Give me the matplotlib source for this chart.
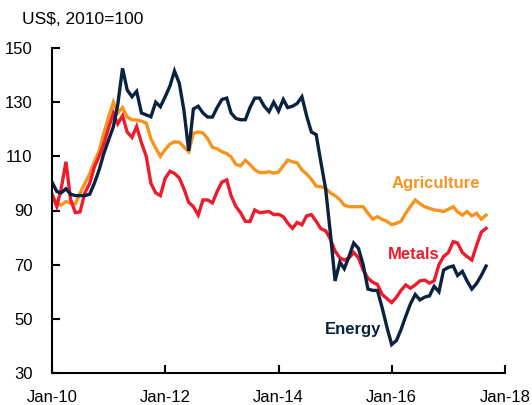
import numpy as np
import pandas as pd
import matplotlib
matplotlib.use("Agg")
import matplotlib.pyplot as plt
import matplotlib.dates as mdates

plt.rcParams['font.family'] = ['Liberation Sans', 'DejaVu Sans']

dates = pd.date_range("2010-01-01", periods=93, freq="MS")

energy = [100.5, 97, 96.5, 98, 96, 95.5, 95.5, 95.5, 96, 100, 105, 111, 116, 121, 129, 142.5,
          134.5, 132, 134, 126, 125.3, 124.6, 130, 128.3, 132, 136, 141.5, 137, 127, 112,
          127.5, 128.5, 126, 124.5, 124.5, 128, 131, 131.5, 126, 124, 123.5, 123.5,
          128, 131.5, 131.5, 128.5, 126.5, 130,
          126.7, 131, 128, 128.5, 129.5, 132, 125, 119, 118, 108, 98, 82,
          64, 71, 68.5, 73, 78, 76, 70, 61, 60.5, 60.5, 54, 47,
          40.5, 42, 46, 51, 55.5, 59, 57, 58, 58.5, 62, 60, 68,
          69, 69.5, 66, 67.5, 64, 61, 63, 66, 69.5]

agriculture = [96, 92.5, 92, 93.3, 92.7, 92.4, 96.4, 100, 103.5, 108, 112, 118.5,
               124.5, 130, 126, 128, 124.5, 123.5, 123.4, 123, 122.3, 116.5, 113, 110,
               112.5, 114.5, 115.4, 115.2, 113.5, 111.7, 118.5, 119, 118.6, 116.5, 113.3, 112.8,
               111.7, 111, 109.8, 107, 106.5, 108.5, 107, 105, 104, 104, 104.3, 103.8,
               104.2, 106.5, 108.6, 108, 107.6, 105, 103.5, 101.5, 99, 98.8, 98.2, 96.5,
               95.5, 94, 92, 91.4, 91.4, 91.4, 91.4, 89, 86.8, 87.7, 86.7, 86,
               84.8, 85.3, 86, 89, 91.5, 93.9, 92.5, 91.4, 90.8, 90.2, 90, 89.6,
               90.5, 91.4, 89.5, 88.3, 89.6, 88, 89, 86.8, 88.3]

metals = [96, 91.5, 98, 108, 94, 89.2, 89.5, 96.5, 100, 106, 110, 114.5,
          120.5, 126, 122, 125, 119, 117, 121, 115, 110, 100, 96.5, 95.5,
          101.9, 104.5, 103.7, 102, 98, 93, 91.4, 88.3, 93.9, 93.9, 92.8, 97,
          100.5, 101.3, 95.5, 91.5, 89.2, 86, 85.9, 90.2, 89.2, 89.4, 89.6, 88.5,
          88.6, 87.7, 85.4, 83.4, 85.6, 84.7, 88, 88.5, 86, 83.3, 82.5, 79.5,
          75, 72.5, 71.7, 72.5, 74.5, 72.5, 68, 65, 63.5, 62.7, 59, 57.5,
          56, 58, 60.5, 62.5, 61.3, 62.5, 64, 64.3, 63.2, 64, 70, 73,
          74.5, 78.5, 78, 74.5, 73, 71.7, 77, 82, 83.4]

y_ticks = [30, 50, 70, 90, 110, 130, 150]
x_tick_years = [2010, 2012, 2014, 2016, 2018]

c_energy = "#0A2240"
c_agri = "#F7941E"
c_metal = "#EC1C2E"

fig = plt.figure(figsize=(5.32, 4.05), dpi=100)
ax = fig.add_axes([52/532, 1-373/405, (505-52)/532, (373-48)/405])

lw = 2.4
ax.plot(dates, agriculture, color=c_agri, lw=lw, solid_joinstyle='miter')
ax.plot(dates, metals, color=c_metal, lw=lw, solid_joinstyle='miter')
ax.plot(dates, energy, color=c_energy, lw=lw, solid_joinstyle='miter')

ax.set_ylim(30, 150)
ax.set_yticks(y_ticks)
ax.set_xlim(pd.Timestamp("2010-01-01"), pd.Timestamp("2018-01-01"))
ax.set_xticks([pd.Timestamp(f"{y}-01-01") for y in x_tick_years])
ax.xaxis.set_major_formatter(mdates.DateFormatter("Jan-%y"))

for s in ['top', 'right']:
    ax.spines[s].set_visible(False)
for s in ['left', 'bottom']:
    ax.spines[s].set_linewidth(1.5)
    ax.spines[s].set_color('black')
ax.tick_params(axis='both', direction='in', length=6, width=1.5, labelsize=12, colors='black')
ax.tick_params(axis='y', pad=14)
ax.tick_params(axis='x', pad=12)

fig.text(22/532, 1-20/405, "US$, 2010=100", fontsize=12.5, ha='left', va='center')

ax.text(pd.Timestamp("2016-10-12"), 99.8, "Agriculture", color=c_agri, fontsize=12,
        fontweight='bold', ha='center', va='center')
ax.text(pd.Timestamp("2016-05-25"), 73.6, "Metals", color=c_metal, fontsize=12,
        fontweight='bold', ha='center', va='center')
ax.text(pd.Timestamp("2015-04-25"), 46.0, "Energy", color=c_energy, fontsize=12,
        fontweight='bold', ha='center', va='center')

fig.savefig("out.png", dpi=100)
